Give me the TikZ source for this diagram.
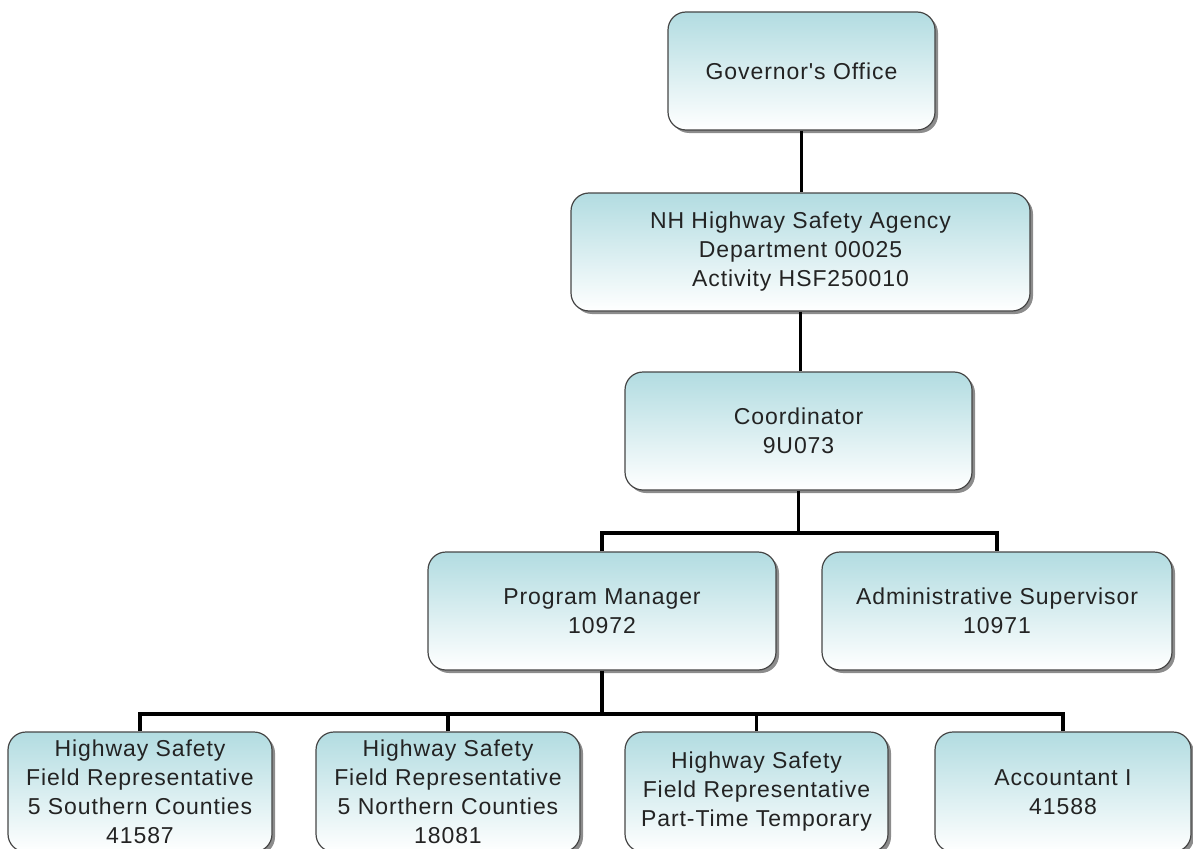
\documentclass[tikz,border=0pt]{standalone}
\usepackage{fontspec}
\setmainfont{Liberation Sans}
\newfontfamily\boxfont{Liberation Sans}[LetterSpace=4]
\usetikzlibrary{shadows}
\definecolor{boxteal}{RGB}{178,220,225}
\definecolor{boxedge}{RGB}{70,70,70}
\definecolor{txt}{RGB}{35,35,35}
\tikzset{
  orgbox/.style={rectangle, rounded corners=18pt, draw=boxedge, line width=1.2pt,
    top color=boxteal, bottom color=white, align=center, inner sep=0pt,
    font=\boxfont\fontsize{23}{29}\selectfont, text=txt,
    drop shadow={shadow xshift=3pt, shadow yshift=-3pt, fill=black, opacity=0.45}},
  conn/.style={line width=3.5pt, black}
}
\begin{document}
\begin{tikzpicture}[x=1pt,y=-1pt]
\useasboundingbox (0,0) rectangle (1193,848);
\clip (0,0) rectangle (1193,848);
\node[orgbox, minimum width=267pt, minimum height=118pt] (gov) at (801.5,71) {Governor's Office};
\node[orgbox, minimum width=459pt, minimum height=118pt] (nh) at (800.5,252) {NH Highway Safety Agency\\Department 00025\\Activity HSF250010};
\node[orgbox, minimum width=347pt, minimum height=118pt] (coord) at (798.5,431) {Coordinator\\9U073};
\node[orgbox, minimum width=348pt, minimum height=118pt] (pm) at (602,611) {Program Manager\\10972};
\node[orgbox, minimum width=350pt, minimum height=118pt] (adm) at (997,611) {Administrative Supervisor\\10971};
\node[orgbox, minimum width=264pt, minimum height=120pt] (b1) at (140,792) {Highway Safety\\Field Representative\\5 Southern Counties\\41587};
\node[orgbox, minimum width=264pt, minimum height=120pt] (b2) at (448,792) {Highway Safety\\Field Representative\\5 Northern Counties\\18081};
\node[orgbox, minimum width=263pt, minimum height=120pt] (b3) at (756.5,792) {Highway Safety\\Field Representative\\Part-Time Temporary};
\node[orgbox, minimum width=256pt, minimum height=120pt] (b4) at (1063,792) {Accountant I\\41588};
\coordinate (j1) at (0,533);
\coordinate (j2) at (0,714);
\draw[conn] (gov.south) -- (gov.south |- nh.north);
\draw[conn] (nh.south) -- (nh.south |- coord.north);
\draw[conn] (coord.south) -- (coord.south |- j1);
\draw[conn] (pm.north) -- (pm.north |- j1) -- (adm.north |- j1) -- (adm.north);
\draw[conn] (pm.south) -- (pm.south |- j2);
\draw[conn] (b1.north) -- (b1.north |- j2) -- (b4.north |- j2) -- (b4.north);
\draw[conn] (b2.north) -- (b2.north |- j2);
\draw[conn] (b3.north) -- (b3.north |- j2);
\end{tikzpicture}
\end{document}
